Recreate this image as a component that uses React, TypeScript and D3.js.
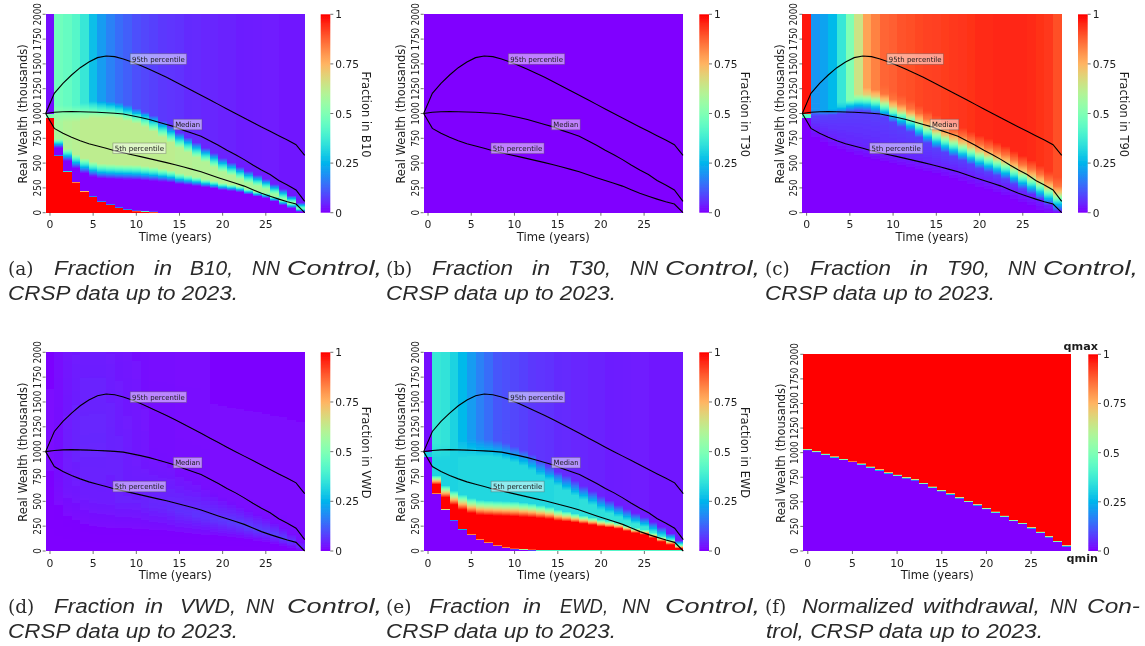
import React from "react";
import * as d3 from "d3";

// ---- data (index = year column 0..29) ----
const years = d3.range(30);
const xTicks = [0, 5, 10, 15, 20, 25];
const yTicks = [0, 250, 500, 750, 1000, 1250, 1500, 1750, 2000];
const cbarTicks = [0, 0.25, 0.5, 0.75, 1];
const cbarTickLabels = ["0", "0.25", "0.5", "0.75", "1"];

// percentile wealth at each decision time 0..30
const p95 = [1000, 1203, 1304, 1388, 1462, 1519, 1563, 1580, 1573, 1550, 1519, 1485, 1445, 1405, 1365, 1320, 1275, 1230, 1185, 1138, 1092, 1045, 1000, 955, 910, 865, 820, 775, 732, 686, 578];
const p50 = [1000, 1012, 1018, 1020, 1018, 1015, 1012, 1008, 1003, 995, 978, 960, 940, 915, 890, 865, 830, 800, 770, 725, 680, 630, 585, 535, 480, 430, 385, 325, 280, 229, 115];
const p05 = [1000, 850, 800, 760, 726, 696, 672, 649, 625, 605, 585, 565, 545, 525, 505, 484, 460, 437, 412, 383, 353, 325, 297, 268, 232, 195, 165, 137, 110, 87, 0];

// shared wealth boundaries of the control
const floorEdge = [950, 565, 407, 303, 212, 155, 105, 75, 45, 25, 14, 8, 4, 0, 0, 0, 0, 0, 0, 0, 0, 0, 0, 0, 0, 0, 0, 0, 0, 0];
const lowerEdge = [950, 650, 520, 447, 397, 363, 345, 340, 336, 333, 330, 325, 320, 313, 305, 288, 280, 270, 258, 245, 229, 220, 208, 185, 165, 148, 115, 78, 47, 10];
const lowerRise = [10, 90, 120, 140, 150, 150, 150, 150, 150, 150, 150, 145, 140, 130, 120, 110, 100, 90, 80, 75, 70, 65, 60, 55, 50, 50, 50, 50, 50, 30];
const upperEdge = [1000, 1000, 1000, 1000, 1020, 1040, 1040, 1040, 1030, 1005, 975, 940, 895, 840, 785, 727, 680, 630, 580, 530, 480, 440, 400, 360, 325, 290, 240, 190, 140, 78];
const upperHalf = [5, 90, 90, 90, 90, 90, 90, 85, 85, 85, 80, 80, 80, 80, 80, 75, 75, 75, 70, 70, 70, 65, 60, 60, 55, 50, 50, 50, 35, 25];

const b10Top = [0.02, 0.47, 0.45, 0.42, 0.36, 0.27, 0.21, 0.17, 0.14, 0.12, 0.1, 0.09, 0.08, 0.072, 0.065, 0.06, 0.055, 0.052, 0.049, 0.046, 0.043, 0.041, 0.039, 0.037, 0.035, 0.033, 0.032, 0.031, 0.03, 0.03];
const b10Mid = [0.5, 0.58, 0.6, 0.61, 0.62, 0.62, 0.62, 0.62, 0.62, 0.62, 0.62, 0.62, 0.62, 0.62, 0.62, 0.61, 0.61, 0.6, 0.6, 0.6, 0.6, 0.6, 0.59, 0.58, 0.58, 0.57, 0.56, 0.55, 0.54, 0.45];

const t30Level = [0, 0, 0, 0, 0, 0, 0, 0, 0, 0, 0, 0, 0, 0, 0, 0, 0, 0, 0, 0, 0, 0, 0, 0, 0, 0, 0, 0, 0, 0];

const t90Top = [0.97, 0.2, 0.22, 0.26, 0.36, 0.5, 0.65, 0.78, 0.83, 0.87, 0.88, 0.895, 0.9, 0.91, 0.915, 0.92, 0.925, 0.93, 0.935, 0.94, 0.945, 0.945, 0.95, 0.95, 0.95, 0.95, 0.945, 0.94, 0.93, 0.9];
const t90Knee = [1000, 1040, 1040, 1050, 1070, 1090, 1100, 1095, 1075, 1030, 975, 930, 880, 825, 770, 716, 675, 635, 595, 555, 514, 480, 445, 410, 360, 312, 265, 215, 158, 98];
const t90KneeOffsets = [-70, 0, 50, 100, 170, 260];
const t90KneeValues = [0.08, 0.3, 0.5, 0.7, 0.85, 0.95];

const vwdTop = [0.01, 0.02, 0.035, 0.045, 0.05, 0.05, 0.05, 0.045, 0.04, 0.035, 0.03, 0.025, 0.02, 0.02, 0.02, 0.015, 0.015, 0.015, 0.015, 0.01, 0.01, 0.01, 0.01, 0.01, 0.01, 0.01, 0.01, 0.01, 0.01, 0.01];
const vwdMid = [0.01, 0.02, 0.03, 0.03, 0.035, 0.035, 0.035, 0.035, 0.04, 0.04, 0.04, 0.045, 0.05, 0.05, 0.055, 0.06, 0.06, 0.065, 0.065, 0.07, 0.07, 0.075, 0.08, 0.08, 0.08, 0.08, 0.08, 0.08, 0.07, 0.05];

const ewdTop = [0.02, 0.36, 0.35, 0.31, 0.26, 0.21, 0.17, 0.14, 0.11, 0.1, 0.09, 0.08, 0.072, 0.065, 0.06, 0.055, 0.052, 0.049, 0.046, 0.043, 0.041, 0.039, 0.037, 0.035, 0.033, 0.032, 0.031, 0.03, 0.03, 0.03];
const ewdMid = [0.3, 0.31, 0.31, 0.31, 0.32, 0.32, 0.32, 0.32, 0.32, 0.32, 0.32, 0.32, 0.32, 0.32, 0.32, 0.33, 0.33, 0.33, 0.34, 0.34, 0.34, 0.35, 0.35, 0.36, 0.36, 0.36, 0.37, 0.38, 0.4, 0.5];

const withdrawalEdge = [1034, 1014, 986, 959, 935, 908, 878, 847, 820, 790, 766, 742, 722, 685, 647, 613, 580, 542, 505, 471, 434, 397, 356, 315, 275, 231, 186, 142, 95, 51];

const annotations = [
  { text: "95th percentile", t: 9.5, w: 1550, width: 52.8 },
  { text: "Median", t: 14.5, w: 890, width: 25 },
  { text: "5th percentile", t: 7.5, w: 650, width: 49.4 },
];

const rainbow = (v: number) =>
  d3.rgb(
    255 * Math.min(1, Math.abs(2 * v - 0.5)),
    255 * Math.sin(Math.PI * v),
    255 * Math.cos((Math.PI * v) / 2)
  ).formatHex();

type Knots = [number, number][];
const cleanKnots = (k: Knots): Knots => {
  const out: Knots = [];
  k.forEach(([w, v]) => {
    const last = out.length ? out[out.length - 1][0] : -1;
    out.push([Math.max(w, last + 0.01), v]);
  });
  return out;
};

const b10Profile = (i: number): Knots => {
  if (i === 0) return [[0, 1], [950, 1], [955, b10Mid[0]], [1000, b10Mid[0]], [1005, b10Top[0]], [2000, b10Top[0]]];
  return [
    [0, floorEdge[i] > 0 ? 1 : 0],
    [floorEdge[i], floorEdge[i] > 0 ? 1 : 0],
    [floorEdge[i] + 12, 0],
    [lowerEdge[i], 0],
    [lowerEdge[i] + lowerRise[i], b10Mid[i]],
    [upperEdge[i] - upperHalf[i], b10Mid[i]],
    [upperEdge[i] + upperHalf[i], b10Top[i]],
    [2000, b10Top[i]],
  ];
};
const ewdProfile = (i: number): Knots => {
  if (i === 0) return [[0, 0], [950, 0], [955, ewdMid[0]], [1000, ewdMid[0]], [1005, ewdTop[0]], [2000, ewdTop[0]]];
  return [
    [0, 0],
    [floorEdge[i], 0],
    [floorEdge[i] + 12, 1],
    [lowerEdge[i] + 15, 1],
    [lowerEdge[i] + 15 + lowerRise[i], ewdMid[i]],
    [upperEdge[i] - upperHalf[i], ewdMid[i]],
    [upperEdge[i] + upperHalf[i], ewdTop[i]],
    [2000, ewdTop[i]],
  ];
};
const t30Profile = (i: number): Knots => [[0, t30Level[i]], [2000, t30Level[i]]];
const t90Profile = (i: number): Knots => {
  if (i === 0) return [[0, 0], [950, 0], [955, 0.42], [1000, 0.42], [1005, t90Top[0]], [2000, t90Top[0]]];
  const low = Math.min(p05[i] + 20, t90Knee[i] - 75);
  return [
    [Math.max(0, low - 130), 0],
    [low, 0.05],
    ...t90KneeOffsets.map((o, j): [number, number] => [t90Knee[i] + o, Math.min(t90Top[i], t90KneeValues[j])]),
    [2000, t90Top[i]],
  ];
};
const vwdProfile = (i: number): Knots => [
  [0, 0],
  [lowerEdge[i] * 0.6, 0.005],
  [lowerEdge[i] + lowerRise[i], vwdMid[i]],
  [upperEdge[i] + upperHalf[i], vwdTop[i]],
  [2000, vwdTop[i] * 0.7],
];
const withdrawalProfile = (i: number): Knots => [[0, 0], [withdrawalEdge[i] - 10, 0], [withdrawalEdge[i] + 10, 1], [2000, 1]];

const W_ROWS = d3.range(0, 2000, 10);

type PanelSpec = {
  key: string; left: number; right: number; top: number; bottom: number;
  cbarLeft: number; cbarRight: number; label?: string; profile: (i: number) => Knots; lines: boolean; q?: boolean;
};

const ROW1 = { top: 14.3, bottom: 212.7 };
const ROW2 = { top: 352.3, bottom: 551 };
const panels: PanelSpec[] = [
  { key: "a", left: 45.67, right: 304.67, ...ROW1, cbarLeft: 320.7, cbarRight: 330.3, label: "Fraction in B10", profile: b10Profile, lines: true },
  { key: "b", left: 423.7, right: 683, ...ROW1, cbarLeft: 699.3, cbarRight: 709, label: "Fraction in T30", profile: t30Profile, lines: true },
  { key: "c", left: 802.3, right: 1061.7, ...ROW1, cbarLeft: 1078, cbarRight: 1087.7, label: "Fraction in T90", profile: t90Profile, lines: true },
  { key: "d", left: 45.67, right: 304.67, ...ROW2, cbarLeft: 320.7, cbarRight: 330.3, label: "Fraction in VWD", profile: vwdProfile, lines: true },
  { key: "e", left: 423.7, right: 683.3, ...ROW2, cbarLeft: 699.3, cbarRight: 709, label: "Fraction in EWD", profile: ewdProfile, lines: true },
  { key: "f", left: 803.3, right: 1071.3, top: 354.3, bottom: 551, cbarLeft: 1088.3, cbarRight: 1098, profile: withdrawalProfile, lines: false, q: true },
];

const SANS = "'DejaVu Sans', sans-serif";
const CAP = "'Liberation Sans', sans-serif";
const SERIF = "'DejaVu Serif', 'Liberation Serif', serif";
const INK = "#1c1c1c";

function Panel({ p }: { p: PanelSpec }) {
  const x = d3.scaleLinear().domain([-0.5, 29.5]).range([p.left, p.right]);
  const y = d3.scaleLinear().domain([0, 2000]).range([p.bottom, p.top]);
  const cy = d3.scaleLinear().domain([0, 1]).range([p.bottom, p.top]);
  const line = d3.line<number>().x((_, k) => x(k - 0.5)).y((d) => y(d));
  const cells: React.ReactNode[] = [];
  years.forEach((i) => {
    const k = cleanKnots(p.profile(i));
    const s = d3.scaleLinear().domain(k.map((d) => d[0])).range(k.map((d) => d[1])).clamp(true);
    const x0 = Math.round(x(i - 0.5));
    const x1 = Math.round(x(i + 0.5));
    let start = 0;
    let cur = rainbow(s(W_ROWS[0] + 5));
    W_ROWS.forEach((w, r) => {
      const next = r + 1 < W_ROWS.length ? rainbow(s(W_ROWS[r + 1] + 5)) : null;
      if (next !== cur) {
        const yTop = Math.round(y(w + 10));
        const yBot = Math.round(y(start));
        if (yBot > yTop) {
          cells.push(<rect key={`${i}-${r}`} x={x0} width={x1 - x0} y={yTop} height={yBot - yTop} fill={cur} shapeRendering="crispEdges" />);
          start = w + 10;
        }
        if (next) cur = next;
      }
    });
  });
  const stops = d3.range(0, 1.001, 0.05);
  const midY = (p.top + p.bottom) / 2;
  const midX = (p.left + p.right) / 2;
  return (
    <g>
      <defs>
        <linearGradient id={`cb-${p.key}`} x1="0" x2="0" y1="1" y2="0">
          {stops.map((v) => <stop key={v} offset={v} stopColor={rainbow(v)} />)}
        </linearGradient>
      </defs>
      <g filter="url(#soft)">{cells}</g>
      <rect x={p.cbarLeft} width={p.cbarRight - p.cbarLeft} y={p.top} height={p.bottom - p.top} fill={`url(#cb-${p.key})`} />
      {xTicks.map((t) => (
        <g key={t}>
          <line x1={x(t)} x2={x(t)} y1={p.bottom} y2={p.bottom + 3} stroke="#333" strokeWidth={0.7} />
          <text x={x(t)} y={p.bottom + 15.5} textAnchor="middle" fontSize={10.8} fontFamily={SANS} fill={INK}>{t}</text>
        </g>
      ))}
      {yTicks.map((t) => (
        <g key={t}>
          <line x1={p.left - 3} x2={p.left} y1={y(t)} y2={y(t)} stroke="#333" strokeWidth={0.7} />
          <text transform={`translate(${p.left - 5},${y(t)}) rotate(-90) scale(1,1.25)`} textAnchor="middle" fontSize={8.9} fontFamily={SANS} fill={INK}>{t}</text>
        </g>
      ))}
      {cbarTicks.map((t, j) => (
        <g key={t}>
          <line x1={p.cbarRight} x2={p.cbarRight + 3} y1={cy(t)} y2={cy(t)} stroke="#333" strokeWidth={0.7} />
          <text x={p.cbarRight + 5} y={cy(t) + 4} fontSize={10.6} fontFamily={SANS} fill={INK}>{cbarTickLabels[j]}</text>
        </g>
      ))}
      <text x={midX} y={p.bottom + 28} textAnchor="middle" fontSize={11.6} fontFamily={SANS} fill={INK}>Time (years)</text>
      <text transform={`translate(${p.left - 18.5},${midY + 0.5}) rotate(-90) scale(1,1.1)`} textAnchor="middle" fontSize={11.4} fontFamily={SANS} fill={INK}>Real Wealth (thousands)</text>
      {p.label && (
        <text transform={`translate(${p.cbarRight + 32},${midY + 1}) rotate(90) scale(1,1.1)`} textAnchor="middle" fontSize={11.5} fontFamily={SANS} fill={INK}>{p.label}</text>
      )}
      {p.q && (
        <g fontFamily={SANS} fontWeight="bold" fontSize={11.2} textAnchor="end" fill={INK}>
          <text x={p.cbarRight} y={p.top - 4}>qmax</text>
          <text x={p.cbarRight} y={p.bottom + 11}>qmin</text>
        </g>
      )}
      {p.lines && (
        <g>
          {[p95, p50, p05].map((s, j) => (
            <path key={j} d={line(s) as string} fill="none" stroke="#000" strokeWidth={1.1} />
          ))}
          {annotations.map((a) => (
            <g key={a.text}>
              <rect x={x(a.t) - 1.8} y={y(a.w) - 5.2} width={a.width + 3.6} height={10.6}
                fill="#fff" fillOpacity={0.5} stroke="#555" strokeOpacity={0.5} strokeWidth={0.7} />
              <text x={x(a.t)} y={y(a.w) + 2.6} fontSize={7.2} fontFamily={SANS} fill="#1a1a1a" textLength={a.width} lengthAdjust="spacingAndGlyphs">{a.text}</text>
            </g>
          ))}
        </g>
      )}
    </g>
  );
}

const capWords = ["Fraction", "in", "", "NN", "Control,"];
const capLabels = [
  { tag: "(a)", name: "B10,", left: 8, base: 275, xs: [46, 146, 182, 246, 279], nameW: 43 },
  { tag: "(b)", name: "T30,", left: 386, base: 275, xs: [46, 146, 182, 246, 279], nameW: 43 },
  { tag: "(c)", name: "T90,", left: 765, base: 275, xs: [45, 145, 182, 245, 278], nameW: 43 },
  { tag: "(d)", name: "VWD,", left: 8, base: 613, xs: [46, 137, 172, 240, 279], nameW: 56 },
  { tag: "(e)", name: "EWD,", left: 386, base: 613, xs: [43, 137, 174, 238, 279], nameW: 48 },
];

function Caption({ c }: { c: (typeof capLabels)[number] }) {
  const words = [capWords[0], capWords[1], c.name, capWords[3], capWords[4]];
  const widths = [81, 18, c.nameW, 28, 95];
  return (
    <g fill="#2a2a2a" fontSize={20}>
      <text x={c.left} y={c.base} fontFamily={SERIF} fontSize={18.5}>{c.tag}</text>
      {words.map((w, j) => (
        <text key={j} x={c.left + c.xs[j] - (j === 3 ? 2 : 0)} y={c.base} fontFamily={CAP} fontStyle="italic" textLength={widths[j]} lengthAdjust="spacingAndGlyphs">{w}</text>
      ))}
      <text x={c.left} y={c.base + 25} fontFamily={CAP} fontStyle="italic" textLength={230} lengthAdjust="spacingAndGlyphs">CRSP data up to 2023.</text>
    </g>
  );
}

export default function App() {
  return (
    <svg width={1145} height={646} viewBox="0 0 1145 646" style={{ position: "absolute", left: 0, top: 0, background: "#fff" }}>
      <defs>
        <filter id="soft" x="-2%" y="-2%" width="104%" height="104%">
          <feGaussianBlur stdDeviation={0.55} />
        </filter>
        <filter id="softer" filterUnits="userSpaceOnUse" x={0} y={0} width={1145} height={646}>
          <feGaussianBlur stdDeviation={0.3} />
        </filter>
      </defs>
      <g filter="url(#softer)">
        {panels.map((p) => <Panel key={p.key} p={p} />)}
        {capLabels.map((c) => <Caption key={c.tag} c={c} />)}
        <g fill="#2a2a2a" fontSize={20} fontFamily={CAP} fontStyle="italic">
          <text x={765} y={613} fontFamily={SERIF} fontStyle="normal" fontSize={18.5}>(f)</text>
          <text x={802} y={613} textLength={111} lengthAdjust="spacingAndGlyphs">Normalized</text>
          <text x={923} y={613} textLength={117} lengthAdjust="spacingAndGlyphs">withdrawal,</text>
          <text x={1050} y={613} textLength={27} lengthAdjust="spacingAndGlyphs">NN</text>
          <text x={1087} y={613} textLength={53} lengthAdjust="spacingAndGlyphs">Con-</text>
          <text x={766} y={638} textLength={277} lengthAdjust="spacingAndGlyphs">trol, CRSP data up to 2023.</text>
        </g>
      </g>
    </svg>
  );
}
